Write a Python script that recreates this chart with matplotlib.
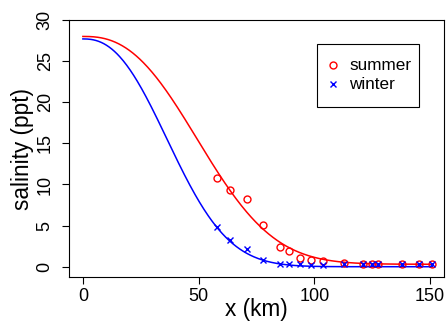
import numpy as np
import matplotlib
matplotlib.use("Agg")
import matplotlib.pyplot as plt
from matplotlib.patches import Rectangle

plt.rcParams['font.family'] = ['Liberation Sans', 'DejaVu Sans']

# observed stations (km) and salinity (ppt)
x_obs = [58, 63.4, 71, 78, 85, 89, 94, 98.6, 103.6, 113, 121, 125, 127.7, 137.8, 145, 151]
summer = [10.8, 9.3, 8.2, 5.1, 2.4, 1.95, 1.0, 0.8, 0.7, 0.5, 0.33, 0.33, 0.33, 0.33, 0.33, 0.33]
winter = [4.8, 3.25, 2.1, 0.8, 0.3, 0.3, 0.3, 0.25, 0.22, 0.3, 0.3, 0.3, 0.3, 0.3, 0.3, 0.3]

# fitted curve parameters: S = Sb + (S0 - Sb) * exp(-(x/L)^n)
summer_fit = dict(S0=28.0, Sb=0.3, L=60.6, n=2.5)
winter_fit = dict(S0=27.7, Sb=0.0, L=45.7, n=2.38)

x_ticks = [0, 50, 100, 150]
y_ticks = [0, 5, 10, 15, 20, 25, 30]
legend_labels = ['summer', 'winter']


def model(x, S0, Sb, L, n):
    return Sb + (S0 - Sb) * np.exp(-(x / L) ** n)


fig = plt.figure(figsize=(4.47, 3.33), dpi=100)
ax = fig.add_axes([69 / 447, 1 - 277 / 333, 375 / 447, 257 / 333])

xc = np.linspace(0, max(x_obs), 400)
ax.plot(xc, model(xc, **summer_fit), color='#FF0000', lw=1.1)
ax.plot(xc, model(xc, **winter_fit), color='#0000FF', lw=1.1)

circle_style = dict(linestyle='none', marker='o', mfc='none', mec='#FF0000', ms=5.0, mew=1.0)
cross_style = dict(linestyle='none', marker='x', color='#0000FF', ms=5.0, mew=1.0)

ax.plot(x_obs, summer, **circle_style)
ax.plot(x_obs, winter, **cross_style)

ax.set_xlim(-6, 156)
ax.set_ylim(-1.25, 30)
ax.set_xticks(x_ticks)
ax.set_yticks(y_ticks)
ax.tick_params(direction='out', length=5, width=0.8, labelsize=13)
ax.tick_params(axis='x', pad=3)
ax.tick_params(axis='y', pad=6)
for lab in ax.get_yticklabels():
    lab.set_rotation(90)
    lab.set_va('center')
for sp in ax.spines.values():
    sp.set_linewidth(0.8)
    sp.set_color('black')

ax.set_xlabel('x (km)', fontsize=16.3, labelpad=-5)
ax.set_ylabel('salinity (ppt)', fontsize=16.3, labelpad=2)

# legend box (axes coordinates)
def axx(px):
    return (px - 69) / 375


def axy(py):
    return (277 - py) / 257


ax.add_patch(Rectangle((axx(317), axy(107)), axx(419) - axx(317), axy(44) - axy(107),
                       transform=ax.transAxes, facecolor='white', edgecolor='black',
                       lw=0.8, zorder=5))
for i, (lab, st) in enumerate(zip(legend_labels, [circle_style, cross_style])):
    yy = axy(65 + 19.3 * i)
    ax.plot([axx(333.3)], [yy], transform=ax.transAxes, zorder=6, clip_on=False, **st)
    ax.text(axx(349), yy, lab, transform=ax.transAxes, fontsize=12.3,
            va='center', ha='left', zorder=6)

fig.savefig('out.png', dpi=100)
